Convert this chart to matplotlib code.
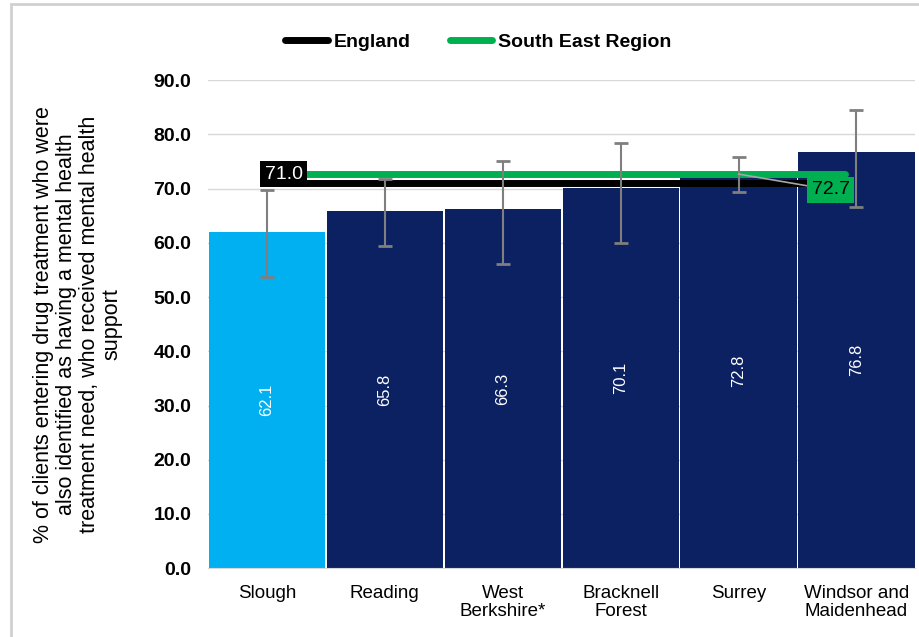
import matplotlib.pyplot as plt
from matplotlib.patches import Rectangle

plt.rcParams['font.family'] = ['Liberation Sans', 'DejaVu Sans']

areas = ['Slough', 'Reading', 'West\nBerkshire*', 'Bracknell\nForest', 'Surrey', 'Windsor and\nMaidenhead']
values = [62.1, 65.8, 66.3, 70.1, 72.8, 76.8]
ci_low = [53.7, 59.4, 56.1, 60.0, 69.3, 66.6]
ci_high = [69.8, 71.7, 75.2, 78.5, 75.9, 84.6]
england = 71.0
south_east = 72.7

navy = '#0B2161'
light_blue = '#00B0F0'
green = '#00B050'

fig = plt.figure(figsize=(9.2, 6.37), dpi=100)
ax = fig.add_axes([0.226, 0.108, 0.769, 0.766])

x = list(range(len(areas)))
colors = [light_blue] + [navy] * (len(areas) - 1)
ax.bar(x, values, width=0.985, color=colors, zorder=2)

# confidence intervals
yerr = [[v - lo for v, lo in zip(values, ci_low)], [hi - v for v, hi in zip(values, ci_high)]]
ax.errorbar(x, values, yerr=yerr, fmt='none', ecolor='#7F7F7F', elinewidth=1.5,
            capsize=5, capthick=2, zorder=5)

# benchmark lines, they end under the value boxes
ax.plot([x[0], x[-1] - 0.1], [england, england], color='black', lw=5, zorder=4,
        solid_capstyle='round', label='England')
ax.plot([x[0], x[-1] - 0.1], [south_east, south_east], color=green, lw=5, zorder=4,
        solid_capstyle='round', label='South East Region')

ax.text(x[0] - 0.02, england + 1.7, f'{england:.1f}', color='white', fontsize=14,
        ha='left', va='center', zorder=6,
        bbox=dict(boxstyle='square,pad=0.22', fc='black', ec='none'))
ax.annotate(f'{south_east:.1f}', xy=(x[4], south_east), xytext=(x[5] - 0.22, south_east - 2.9),
            color='black', fontsize=14, ha='center', va='center', zorder=6,
            bbox=dict(boxstyle='square,pad=0.22', fc=green, ec='none'),
            arrowprops=dict(arrowstyle='-', color='#A6A6A6', lw=1.2, shrinkA=0, shrinkB=0))

for xi, v in zip(x, values):
    ax.text(xi, v / 2, f'{v:.1f}', rotation=90, color='white', fontsize=12,
            ha='center', va='center', zorder=3)

ax.set_xlim(-0.5, len(areas) - 0.5)
ax.set_ylim(0, 90)
ax.set_yticks(range(0, 91, 10))
ax.set_yticklabels([f'{t:.1f}' for t in range(0, 91, 10)], fontsize=14, fontweight='bold')
ax.set_xticks(x)
ax.set_xticklabels(areas, fontsize=13.5, linespacing=1.1)
ax.tick_params(length=0, pad=12)
ax.tick_params(axis='x', pad=12)
ax.yaxis.grid(True, color='#D9D9D9', lw=1, zorder=0)
ax.set_axisbelow(True)
for s in ['top', 'right', 'left']:
    ax.spines[s].set_visible(False)
ax.spines['bottom'].set_color('#D9D9D9')

ax.set_ylabel('% of clients entering drug treatment who were\nalso identified as having a mental health\n'
              'treatment need, who received mental health\nsupport', fontsize=15.5, labelpad=22, linespacing=1.12)

leg = fig.legend(loc='upper center', bbox_to_anchor=(0.52, 0.975), ncol=2, frameon=False,
                 prop={'weight': 'bold', 'size': 14}, handlelength=2.2, columnspacing=2.0, handletextpad=0.3)

fig.patches.append(Rectangle((0.012, -0.01), 1.0, 1.003, transform=fig.transFigure,
                             fill=False, ec='#D0D0D0', lw=2))

fig.savefig('out.png', dpi=100)
